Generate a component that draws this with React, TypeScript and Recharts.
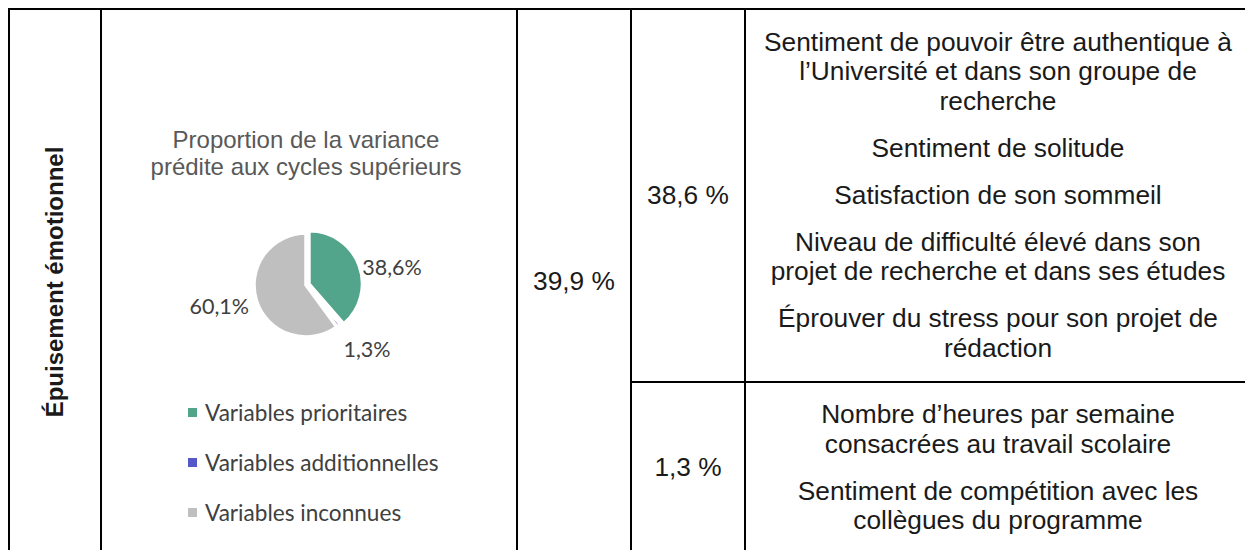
import React from "react"
import { PieChart, Pie, Cell, Legend } from "recharts"

const categories = ["Variables prioritaires", "Variables additionnelles", "Variables inconnues"]
const shares = [38.6, 1.3, 60.1]
const colors = ["#52A58A", "#5558C6", "#BFBFBF"]

const chartTitle = ["Proportion de la variance", "prédite aux cycles supérieurs"]
const rowLabel = "Épuisement émotionnel"
const totalLabel = "39,9 %"
const groupLabels = ["38,6 %", "1,3 %"]
const priorityItems = [
  ["Sentiment de pouvoir être authentique à", "l’Université et dans son groupe de", "recherche"],
  ["Sentiment de solitude"],
  ["Satisfaction de son sommeil"],
  ["Niveau de difficulté élevé dans son", "projet de recherche et dans ses études"],
  ["Éprouver du stress pour son projet de", "rédaction"],
]
const additionalItems = [
  ["Nombre d’heures par semaine", "consacrées au travail scolaire"],
  ["Sentiment de compétition avec les", "collègues du programme"],
]

const pieData = categories.map((name, i) => ({ name, value: shares[i] }))
const fmt = (v: number) => v.toFixed(1).replace(".", ",") + "%"

const RAD = Math.PI / 180
const CELL_FONT = "'Liberation Sans', Arial, sans-serif"
const CHART_FONT = "Lato, 'Open Sans', sans-serif"

const line = (left: number, top: number, width: number, height: number): React.CSSProperties => ({
  position: "absolute",
  left: left - 8,
  top: top - 8,
  width,
  height,
  background: "#000",
})

const cellText: React.CSSProperties = {
  position: "absolute",
  display: "flex",
  flexDirection: "column",
  justifyContent: "center",
  alignItems: "center",
  textAlign: "center",
  fontFamily: CELL_FONT,
  fontSize: 26.3,
  color: "#1a1a1a",
  lineHeight: "29.5px",
}

// data labels sit just outside the pie, pushed down a bit near the bottom
const renderLabel = (props: any) => {
  const { cx, cy, midAngle, outerRadius, index } = props
  const c = Math.cos(-midAngle * RAD)
  const s = Math.sin(-midAngle * RAD)
  const r = outerRadius + 8
  const x = cx + r * c
  const y = cy + r * s + (1 - Math.abs(c)) * 45
  return (
    <text
      x={x}
      y={y}
      textAnchor={c >= 0 ? "start" : "end"}
      dominantBaseline="central"
      fill="#404040"
      fontSize={21.5}
      fontFamily={CHART_FONT}
    >
      {fmt(shares[index])}
    </text>
  )
}

const LegendList = () => (
  <div style={{ fontFamily: CHART_FONT, fontSize: 22.6, color: "#404040" }}>
    {categories.map((name, i) => (
      <div key={name} style={{ height: 50, display: "flex", alignItems: "center" }}>
        <span style={{ width: 9, height: 9, background: colors[i], marginRight: 8, display: "inline-block" }} />
        {name}
      </div>
    ))}
  </div>
)

const Paragraphs = ({ items }: { items: string[][] }) => (
  <>
    {items.map((p, i) => (
      <div key={i} style={{ marginTop: i === 0 ? 0 : 17.5 }}>
        {p.map((l) => (
          <div key={l}>{l}</div>
        ))}
      </div>
    ))}
  </>
)

export default function App() {
  const cx = 204
  const cy = 275
  return (
    <div style={{ position: "relative", width: 1245, height: 542, overflow: "hidden", background: "#fff" }}>
      {/* table rules */}
      <div style={line(8, 8, 1250, 2)} />
      <div style={line(8, 8, 2, 560)} />
      <div style={line(100, 8, 2, 560)} />
      <div style={line(516, 8, 2, 560)} />
      <div style={line(630, 8, 2, 560)} />
      <div style={line(744, 8, 2, 560)} />
      <div style={line(630, 381, 630, 2)} />

      <div
        style={{
          position: "absolute",
          left: 55 - 8 - 150,
          top: 282 - 8 - 15,
          width: 300,
          height: 30,
          lineHeight: "30px",
          textAlign: "center",
          transform: "rotate(-90deg)",
          fontFamily: CELL_FONT,
          fontWeight: "bold",
          fontSize: 24,
          color: "#1a1a1a",
        }}
      >
        {rowLabel}
      </div>

      <div style={{ position: "absolute", left: 102 - 8, top: 10 - 8 }}>
        <PieChart width={414} height={543} margin={{ top: 0, right: 0, bottom: 0, left: 0 }}>
          <text x={cx} y={129} textAnchor="middle" dominantBaseline="central" fill="#595959" fontSize={24} fontFamily={CELL_FONT}>
            {chartTitle[0]}
          </text>
          <text x={cx} y={156} textAnchor="middle" dominantBaseline="central" fill="#595959" fontSize={24} fontFamily={CELL_FONT}>
            {chartTitle[1]}
          </text>
          <Pie
            data={pieData}
            dataKey="value"
            nameKey="name"
            cx={cx}
            cy={cy}
            outerRadius={52}
            startAngle={90}
            endAngle={-270}
            stroke="#fff"
            strokeWidth={3.5}
            label={renderLabel}
            labelLine={false}
            isAnimationActive={false}
          >
            {pieData.map((d, i) => (
              <Cell key={d.name} fill={i === 0 ? "none" : colors[i]} stroke={i === 0 ? "none" : "#fff"} />
            ))}
          </Pie>
          {/* the priority slice is pulled out slightly */}
          <Pie
            data={pieData}
            dataKey="value"
            nameKey="name"
            cx={cx + 3.7}
            cy={cy - 1.4}
            outerRadius={52}
            startAngle={90}
            endAngle={-270}
            stroke="#fff"
            strokeWidth={2}
            legendType="none"
            isAnimationActive={false}
          >
            {pieData.map((d, i) => (
              <Cell key={d.name} fill={i === 0 ? colors[0] : "none"} stroke={i === 0 ? "#fff" : "none"} />
            ))}
          </Pie>
          <Legend
            layout="vertical"
            align="center"
            verticalAlign="middle"
            content={<LegendList />}
            wrapperStyle={{ top: 377, left: 86, width: 320 }}
          />
        </PieChart>
      </div>

      <div style={{ ...cellText, left: 518 - 8, top: 10 - 8, width: 112, height: 543 }}>{totalLabel}</div>
      <div style={{ ...cellText, left: 632 - 8, top: 10 - 8, width: 112, height: 371 }}>{groupLabels[0]}</div>
      <div style={{ ...cellText, left: 632 - 8, top: 383 - 8, width: 112, height: 170 }}>{groupLabels[1]}</div>
      <div style={{ ...cellText, left: 746 - 8, top: 10 - 8, width: 504, height: 371 }}>
        <Paragraphs items={priorityItems} />
      </div>
      <div style={{ ...cellText, left: 746 - 8, top: 383 - 8, width: 504, height: 170 }}>
        <Paragraphs items={additionalItems} />
      </div>
    </div>
  )
}
